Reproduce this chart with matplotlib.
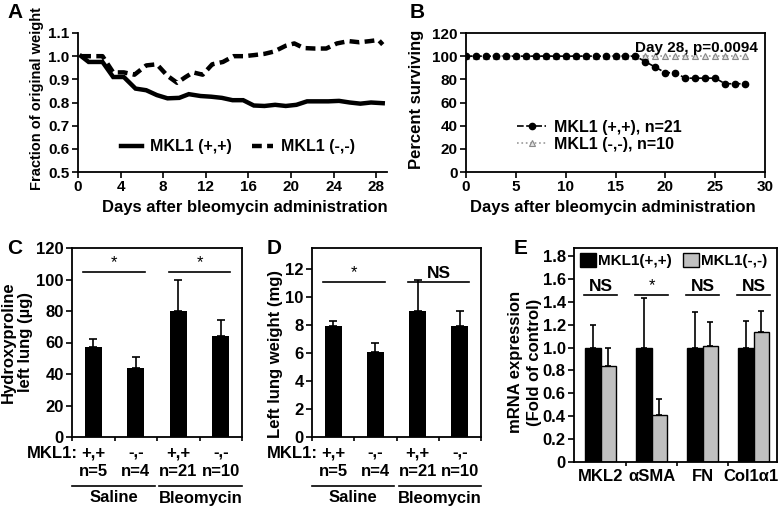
import matplotlib
matplotlib.use("Agg")
import matplotlib.pyplot as plt
import matplotlib.transforms as mtransforms
from matplotlib.lines import Line2D

plt.rcParams['font.family'] = ['Liberation Sans', 'DejaVu Sans']
plt.rcParams['font.weight'] = 'bold'
plt.rcParams['axes.labelweight'] = 'bold'
plt.rcParams['axes.linewidth'] = 1.3
plt.rcParams['xtick.major.width'] = 1.2
plt.rcParams['ytick.major.width'] = 1.2
plt.rcParams['xtick.direction'] = 'out'
plt.rcParams['ytick.direction'] = 'out'

# ---------------- data ----------------
# Panel A: body weight
days_wt_pp = [0.3, 1.0, 2.3, 3.3, 4.3, 5.4, 6.4, 7.4, 8.4, 9.5, 10.4, 11.5, 12.5, 13.5, 14.5, 15.5,
              16.5, 17.5, 18.5, 19.5, 20.5, 21.5, 22.5, 23.5, 24.5, 25.5, 26.5, 27.5, 28.6]
wt_pp = [1.0, 0.975, 0.975, 0.91, 0.91, 0.86, 0.853, 0.832, 0.818, 0.82, 0.836, 0.828, 0.825, 0.82,
         0.81, 0.81, 0.787, 0.785, 0.79, 0.785, 0.79, 0.805, 0.805, 0.805, 0.807, 0.80, 0.795, 0.80, 0.797]
days_wt_mm = [0.3, 1.0, 2.3, 3.3, 4.3, 5.3, 6.4, 7.4, 8.4, 9.3, 10.1, 10.8, 11.7, 12.6, 13.6, 14.6,
              15.6, 16.6, 17.5, 18.4, 19.5, 20.3, 21.2, 22.2, 23.3, 24.3, 25.4, 26.4, 27.4, 28.2, 28.6]
wt_mm = [1.0, 1.0, 1.0, 0.93, 0.93, 0.92, 0.96, 0.965, 0.915, 0.885, 0.91, 0.93, 0.92, 0.965, 0.975,
         1.0, 1.0, 1.005, 1.01, 1.02, 1.045, 1.055, 1.035, 1.033, 1.033, 1.055, 1.065, 1.06, 1.065, 1.07, 1.05]

# Panel B: survival
surv_days = list(range(0, 29))
surv_pp = [100.0] * 18 + [95.2, 90.5, 85.7, 85.7, 81.0, 81.0, 81.0, 81.0, 76.2, 76.2, 76.2]
surv_mm = [100.0] * 29

# Panel C / D
geno_labels = ['+,+', '-,-', '+,+', '-,-']
n_labels = ['n=5', 'n=4', 'n=21', 'n=10']
group_labels = ['Saline', 'Bleomycin']
hyp_mean = [57, 44, 80, 64]
hyp_err = [5, 6.5, 20, 10]
lw_mean = [7.9, 6.1, 9.0, 7.9]
lw_err = [0.4, 0.6, 2.2, 1.1]

# Panel E
genes = ['MKL2', 'αSMA', 'FN', 'Col1α1']
mrna_pp = [1.0, 1.0, 1.0, 1.0]
mrna_pp_err = [0.2, 0.43, 0.31, 0.23]
mrna_mm = [0.84, 0.41, 1.01, 1.14]
mrna_mm_err = [0.16, 0.14, 0.21, 0.18]
sig_E = ['NS', '*', 'NS', 'NS']

W, H = 778, 508
fig = plt.figure(figsize=(W / 100, H / 100), dpi=100)


def pax(l, t, r, b):
    return fig.add_axes([l / W, 1 - b / H, (r - l) / W, (b - t) / H])


LAB = 12

# ---------------- Panel A ----------------
axA = pax(78, 33, 387, 172)
axA.plot(days_wt_pp, wt_pp, color='black', lw=3.2, solid_joinstyle='miter', label='MKL1 (+,+)')
axA.plot(days_wt_mm, wt_mm, color='black', lw=3.2, ls=(0, (2.2, 1.2)), label='MKL1 (-,-)')
axA.set_xlim(0, 29)
axA.set_ylim(0.5, 1.1)
axA.set_xticks(range(0, 29, 4))
axA.set_yticks([0.5, 0.6, 0.7, 0.8, 0.9, 1.0, 1.1])
axA.set_yticklabels(['0.5', '0.6', '0.7', '0.8', '0.9', '1.0', '1.1'])
axA.spines['top'].set_visible(False)
axA.spines['right'].set_visible(False)
axA.tick_params(labelsize=11, length=4, pad=2)
axA.set_xlabel('Days after bleomycin administration', fontsize=LAB)
axA.xaxis.set_label_coords(0.54, -0.2)
axA.set_ylabel('Fraction of original weight', fontsize=10.5)
axA.yaxis.set_label_coords(-0.11, 0.53)
axA.legend(loc='center', bbox_to_anchor=(0.518, 0.18), ncol=2, frameon=False, borderaxespad=0,
           fontsize=11.5, handlelength=1.3, columnspacing=1.3, handletextpad=0.5)
fig.text(7 / W, 1 - 13 / H, 'A', fontsize=15, fontweight='bold', va='center')

# ---------------- Panel B ----------------
axB = pax(466, 33, 765, 172)
axB.plot(surv_days, surv_mm, color='#999999', lw=1.2, ls=':', marker='^', ms=5,
         mfc='#e0e0e0', mec='#888888', mew=0.8, label='MKL1 (-,-), n=10', zorder=2)
axB.plot(surv_days, surv_pp, color='black', lw=1.2, ls=(0, (4, 1.5)), marker='o', ms=4.5,
         mfc='black', mec='black', label='MKL1 (+,+), n=21', zorder=3)
axB.set_xlim(0, 30)
axB.set_ylim(0, 120)
axB.set_xticks(range(0, 31, 5))
axB.set_yticks(range(0, 121, 20))
axB.tick_params(labelsize=11, length=4, pad=2)
axB.set_xlabel('Days after bleomycin administration', fontsize=LAB)
axB.xaxis.set_label_coords(0.49, -0.2)
axB.set_ylabel('Percent surviving', fontsize=LAB)
axB.yaxis.set_label_coords(-0.14, 0.525)
axB.text(23.1, 107, 'Day 28, p=0.0094', fontsize=11, ha='center', va='center')
hB, lB = axB.get_legend_handles_labels()
axB.legend([hB[1], hB[0]], [lB[1], lB[0]], loc='center left', bbox_to_anchor=(0.15, 0.26),
           borderaxespad=0, frameon=False, fontsize=11.5, handlelength=1.8, handletextpad=0.5,
           labelspacing=0.15)
fig.text(410 / W, 1 - 12 / H, 'B', fontsize=15, fontweight='bold', va='center')


# ---------------- Panels C and D ----------------
def bar_panel(ax, means, errs, ylim, yticks, ylabel, ylab_xy, sig, sig_y, letter, letter_x):
    x = list(range(len(means)))
    ax.bar(x, means, width=0.4, color='black', zorder=2)
    ax.errorbar(x, means, yerr=[[0] * len(errs), errs], fmt='none', ecolor='black',
                elinewidth=1.2, capsize=3, capthick=1.2, zorder=1)
    ax.set_xlim(-0.5, 3.5)
    ax.set_ylim(*ylim)
    ax.set_yticks(yticks)
    ax.set_xticks([-0.5, 0.5, 1.5, 2.5, 3.5])
    ax.set_xticklabels([])
    ax.tick_params(labelsize=12, length=4, pad=2)
    ax.tick_params(axis='x', length=3)
    ax.set_ylabel(ylabel, fontsize=LAB)
    ax.yaxis.set_label_coords(*ylab_xy)
    for (x0, x1), s in zip([(-0.23, 1.22), (1.78, 3.22)], sig):
        ax.plot([x0, x1], [sig_y, sig_y], color='black', lw=1.2, clip_on=False)
        if s == '*':
            ax.text((x0 + x1) / 2, sig_y + (ylim[1] - ylim[0]) * 0.01, '*', ha='center', va='bottom',
                    fontsize=12, fontweight='normal')
        else:
            ax.text((x0 + x1) / 2, sig_y + (ylim[1] - ylim[0]) * 0.005, s, ha='center', va='bottom',
                    fontsize=12.5, fontweight='bold')
    tr = mtransforms.blended_transform_factory(ax.transData, fig.transFigure)
    for xi, g, n in zip(x, geno_labels, n_labels):
        ax.text(xi, 1 - 453 / H, g, transform=tr, ha='center', va='center', fontsize=12)
        ax.text(xi, 1 - 472 / H, n, transform=tr, ha='center', va='center', fontsize=12)
    ax.text(-0.36, 1 - 453 / H, 'MKL1:', transform=tr, ha='right', va='center', fontsize=12)
    for (x0, x1), g in zip([(-0.5, 1.45), (1.55, 3.5)], group_labels):
        ax.add_line(Line2D([x0, x1], [1 - 486 / H, 1 - 486 / H], transform=tr, color='black',
                           lw=1.2, clip_on=False))
        ax.text((x0 + x1) / 2, 1 - 498 / H, g, transform=tr, ha='center', va='center', fontsize=12)
    fig.text(letter_x / W, 1 - 248 / H, letter, fontsize=15, fontweight='bold', va='center')


axC = pax(72, 248, 242, 437)
bar_panel(axC, hyp_mean, hyp_err, (0, 120), range(0, 121, 20), 'Hydroxyproline\nleft lung (µg)',
          (-0.23, 0.5), ['*', '*'], 104.7, 'C', 7)

axD = pax(312, 248, 481, 437)
bar_panel(axD, lw_mean, lw_err, (0, 13.5), range(0, 13, 2), 'Left lung weight (mg)',
          (-0.17, 0.44), ['*', 'NS'], 11.07, 'D', 267)

# ---------------- Panel E ----------------
axE = pax(574, 248, 777, 462)
xe = list(range(len(genes)))
bw = 0.3
xb = [v - bw / 2 for v in xe]
xg = [v + bw / 2 for v in xe]
axE.bar(xb, mrna_pp, width=bw, color='black', edgecolor='black', lw=1, label='MKL1(+,+)', zorder=2)
axE.bar(xg, mrna_mm, width=bw, color='#c0c0c0', edgecolor='black', lw=1, label='MKL1(-,-)', zorder=2)
axE.errorbar(xb, mrna_pp, yerr=[[0] * 4, mrna_pp_err], fmt='none', ecolor='black',
             elinewidth=1.2, capsize=2.5, capthick=1.2, zorder=1)
axE.errorbar(xg, mrna_mm, yerr=[[0] * 4, mrna_mm_err], fmt='none', ecolor='black',
             elinewidth=1.2, capsize=2.5, capthick=1.2, zorder=1)
axE.set_xlim(-0.52, 3.46)
axE.set_ylim(0, 1.87)
axE.set_yticks([0, 0.2, 0.4, 0.6, 0.8, 1.0, 1.2, 1.4, 1.6, 1.8])
axE.set_yticklabels(['0', '0.2', '0.4', '0.6', '0.8', '1.0', '1.2', '1.4', '1.6', '1.8'])
axE.set_xticks([0.5, 1.5, 2.5])
axE.set_xticklabels([])
axE.set_xticks([0, 1, 2, 2.96], minor=True)
axE.set_xticklabels(genes, minor=True)
axE.tick_params(axis='x', which='minor', length=0, labelsize=12, pad=5)
axE.tick_params(axis='x', which='major', length=3)
axE.tick_params(axis='y', labelsize=12, length=4, pad=2)
axE.set_ylabel('mRNA expression\n(Fold of control)', fontsize=LAB, linespacing=1.3)
axE.yaxis.set_label_coords(-0.16, 0.467)
for xi, s in zip(xe, sig_E):
    axE.plot([xi - 0.33, xi + 0.33], [1.46, 1.46], color='black', lw=1.2)
    if s == '*':
        axE.text(xi, 1.475, s, ha='center', va='bottom', fontsize=12, fontweight='normal')
    else:
        axE.text(xi, 1.47, s, ha='center', va='bottom', fontsize=12.5, fontweight='bold')
axE.legend(loc='center left', bbox_to_anchor=(0.0, 0.94), borderaxespad=0, ncol=2, frameon=False,
           fontsize=11, handlelength=1.05, handleheight=1.05, handletextpad=0.15, columnspacing=0.7)
fig.text(514 / W, 1 - 248 / H, 'E', fontsize=15, fontweight='bold', va='center')

fig.savefig('out.png', dpi=100)
